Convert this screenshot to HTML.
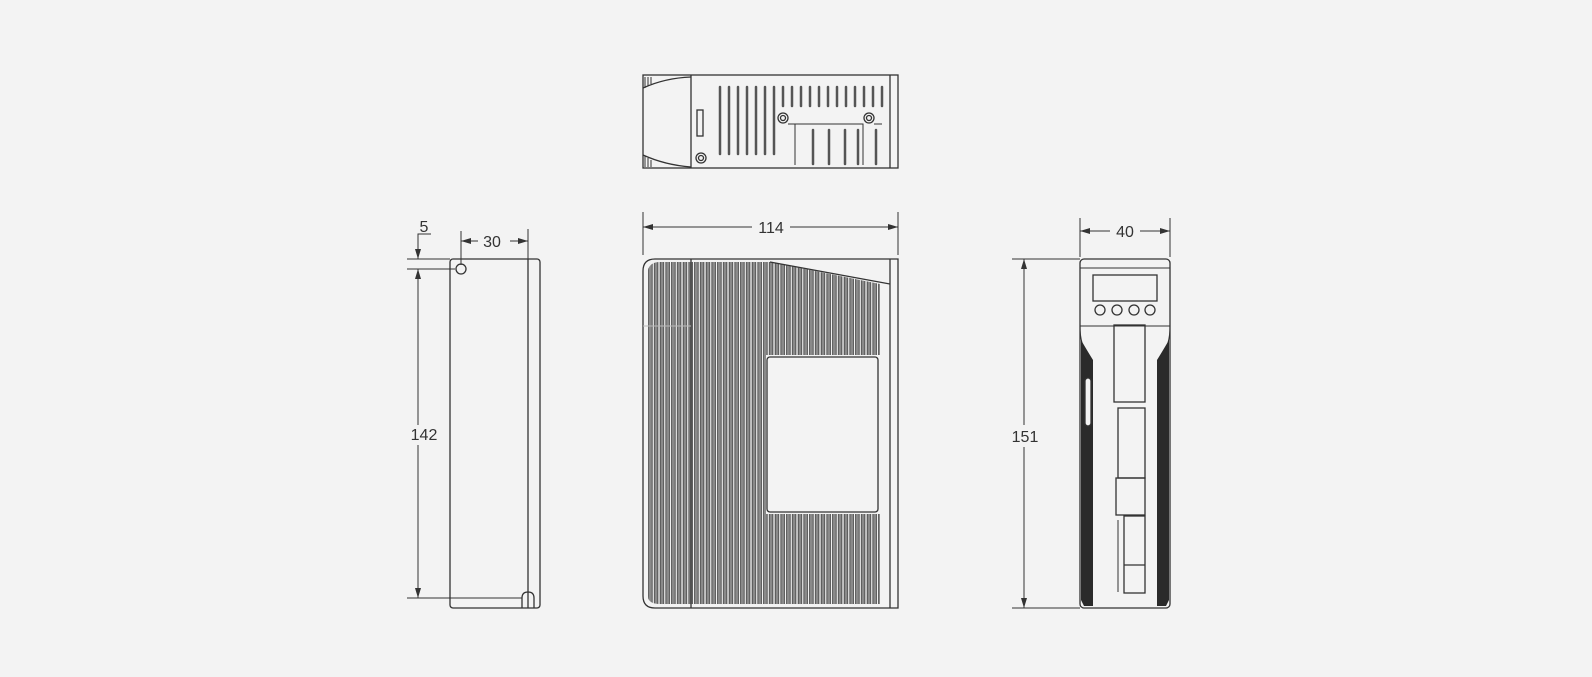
<!DOCTYPE html>
<html><head><meta charset="utf-8"><style>
html,body{margin:0;padding:0;background:#f3f3f3;}
svg{display:block}
text{font-family:"Liberation Sans",sans-serif;font-size:16px;fill:#333}
</style></head><body>
<svg width="1592" height="677" viewBox="0 0 1592 677" xmlns="http://www.w3.org/2000/svg">
<defs>
<pattern id="fin" x="648" y="0" width="5.75" height="700" patternUnits="userSpaceOnUse">
<rect x="0.6" y="0" width="3.6" height="700" rx="1.8" fill="#8a8a8a" stroke="#2a2a2a" stroke-width="0.7"/>
</pattern>
<marker id="ar" viewBox="0 0 10 6" refX="10" refY="3" markerWidth="10" markerHeight="6" orient="auto-start-reverse" markerUnits="userSpaceOnUse"><path d="M0,0 L10,3 L0,6 z" fill="#333"/></marker>
<clipPath id="finclip">
<path d="M648,270 Q650,262 660,262 L770,262 L880,284 L880,355 L648,355 Z M648,514 L880,514 L880,604 L660,604 Q648,604 648,596 Z M648,355 L766,355 L766,514 L648,514 Z"/>
</clipPath>
</defs>
<g fill="none" stroke="#333" stroke-width="1.3">
<!-- TOP VIEW -->
<rect x="643" y="75" width="255" height="93" fill="#f3f3f3"/>
<line x1="691" y1="75" x2="691" y2="168"/>
<path d="M643,88 Q665,78 691,77 M643,155 Q665,165 691,167"/>
<path d="M645,77 L645,88 M648,77 L648,86 M651,77 L651,84 M645,156 L645,167 M648,158 L648,167 M651,160 L651,167" stroke-width="1"/>
<rect x="697" y="110" width="6" height="26" fill="#f3f3f3"/>
<circle cx="701" cy="158" r="5"/><circle cx="701" cy="158" r="2.5"/>
<circle cx="783" cy="118" r="5"/><circle cx="783" cy="118" r="2.5"/>
<circle cx="869" cy="118" r="5"/><circle cx="869" cy="118" r="2.5"/>
<path d="M788,124 L795,124 L795,165 M795,124 L863,124 L863,165 M874,124 L882,124" stroke-width="1"/>
<line x1="890" y1="75" x2="890" y2="168"/>
<g stroke-width="2.5" stroke="#555" stroke-linecap="round">
<line x1="720" y1="87" x2="720" y2="154"/><line x1="729" y1="87" x2="729" y2="154"/><line x1="738" y1="87" x2="738" y2="154"/><line x1="747" y1="87" x2="747" y2="154"/><line x1="756" y1="87" x2="756" y2="154"/><line x1="765" y1="87" x2="765" y2="154"/><line x1="774" y1="87" x2="774" y2="154"/>
<line x1="783" y1="87" x2="783" y2="106"/><line x1="792" y1="87" x2="792" y2="106"/><line x1="801" y1="87" x2="801" y2="106"/><line x1="810" y1="87" x2="810" y2="106"/><line x1="819" y1="87" x2="819" y2="106"/><line x1="828" y1="87" x2="828" y2="106"/><line x1="837" y1="87" x2="837" y2="106"/><line x1="846" y1="87" x2="846" y2="106"/><line x1="855" y1="87" x2="855" y2="106"/><line x1="864" y1="87" x2="864" y2="106"/><line x1="873" y1="87" x2="873" y2="106"/><line x1="882" y1="87" x2="882" y2="106"/>
<line x1="813" y1="130" x2="813" y2="164"/><line x1="829" y1="130" x2="829" y2="164"/><line x1="845" y1="130" x2="845" y2="164"/><line x1="858" y1="130" x2="858" y2="164"/><line x1="876" y1="130" x2="876" y2="164"/>
</g>

<!-- FRONT VIEW -->
<path d="M655,259 L898,259 L898,608 L655,608 Q643,608 643,596 L643,271 Q643,259 655,259 Z" fill="#f3f3f3"/>
<rect x="643" y="259" width="255" height="349" fill="url(#fin)" stroke="none" clip-path="url(#finclip)"/>
<line x1="691" y1="259" x2="691" y2="608"/>
<line x1="890" y1="259" x2="890" y2="608"/>
<line x1="770" y1="262" x2="890" y2="284"/>
<rect x="767" y="357" width="111" height="155" rx="3" fill="#f3f3f3"/>
<line x1="643" y1="326" x2="691" y2="326" stroke="#bbb" stroke-width="1"/>

<!-- LEFT VIEW -->
<rect x="450" y="259" width="90" height="349" rx="3" fill="#f3f3f3"/>
<line x1="528" y1="259" x2="528" y2="608"/>
<line x1="407" y1="598" x2="522" y2="598" stroke-width="1"/>
<path d="M522,608 L522,598 Q522,592 528,592 Q534,592 534,598 L534,608"/>
<circle cx="461" cy="269" r="5" fill="#f3f3f3"/>
</g>

<!-- dims -->
<g stroke="#333" stroke-width="1" fill="none">
<!-- 114 -->
<line x1="643" y1="212" x2="643" y2="255"/><line x1="898" y1="212" x2="898" y2="255"/>
<line x1="643" y1="227" x2="752" y2="227" marker-start="url(#ar)"/>
<line x1="790" y1="227" x2="898" y2="227" marker-end="url(#ar)"/>
<!-- 5 / 30 -->
<line x1="407" y1="259" x2="450" y2="259"/><line x1="407" y1="269" x2="455" y2="269"/>
<path d="M431,234 L418,234 L418,259" marker-end="url(#ar)"/>
<line x1="418" y1="269" x2="418" y2="425" marker-start="url(#ar)"/>
<line x1="418" y1="445" x2="418" y2="598" marker-end="url(#ar)"/>
<line x1="461" y1="231" x2="461" y2="265"/><line x1="528" y1="229" x2="528" y2="259"/>
<line x1="461" y1="241" x2="478" y2="241" marker-start="url(#ar)"/>
<line x1="510" y1="241" x2="528" y2="241" marker-end="url(#ar)"/>
<!-- 40 -->
<line x1="1080" y1="218" x2="1080" y2="257"/><line x1="1170" y1="218" x2="1170" y2="257"/>
<line x1="1080" y1="231" x2="1110" y2="231" marker-start="url(#ar)"/>
<line x1="1140" y1="231" x2="1170" y2="231" marker-end="url(#ar)"/>
<!-- 151 -->
<line x1="1012" y1="259" x2="1080" y2="259"/><line x1="1012" y1="608" x2="1080" y2="608"/>
<line x1="1024" y1="259" x2="1024" y2="425" marker-start="url(#ar)"/>
<line x1="1024" y1="447" x2="1024" y2="608" marker-end="url(#ar)"/>
</g>
<text x="771" y="233" text-anchor="middle">114</text>
<text x="424" y="232" text-anchor="middle">5</text>
<text x="492" y="247" text-anchor="middle">30</text>
<text x="424" y="440" text-anchor="middle">142</text>
<text x="1125" y="237" text-anchor="middle">40</text>
<text x="1025" y="442" text-anchor="middle">151</text>

<!-- RIGHT VIEW -->
<g fill="none" stroke="#333" stroke-width="1.3">
<rect x="1080" y="259" width="90" height="349" rx="4" fill="#f3f3f3"/>
<line x1="1080" y1="268" x2="1170" y2="268" stroke-width="1"/>
<line x1="1080" y1="326" x2="1170" y2="326" stroke-width="1"/>
<path d="M1080,326 Q1080,345 1088,355 L1088,606" stroke-width="1"/>
<path d="M1170,326 Q1170,345 1162,355 L1162,606" stroke-width="1"/>
<path d="M1081,340 Q1088,352 1093,360 L1093,606 L1084,606 L1081,600 Z" fill="#2a2a2a" stroke="none"/>
<path d="M1169,340 Q1162,352 1157,360 L1157,606 L1166,606 L1169,600 Z" fill="#2a2a2a" stroke="none"/>
<rect x="1085" y="378" width="6" height="48" rx="3" fill="#f3f3f3"/>
<rect x="1093" y="275" width="64" height="26"/>
<circle cx="1100" cy="310" r="5"/><circle cx="1117" cy="310" r="5"/><circle cx="1134" cy="310" r="5"/><circle cx="1150" cy="310" r="5"/>
<rect x="1114" y="325" width="31" height="77"/>
<rect x="1118" y="408" width="27" height="70"/>
<rect x="1116" y="478" width="29" height="37"/>
<rect x="1124" y="516" width="21" height="77"/>
<line x1="1124" y1="565" x2="1145" y2="565"/>
<line x1="1118" y1="520" x2="1118" y2="592" stroke-width="1"/>
</g>
</svg>
</body></html>
